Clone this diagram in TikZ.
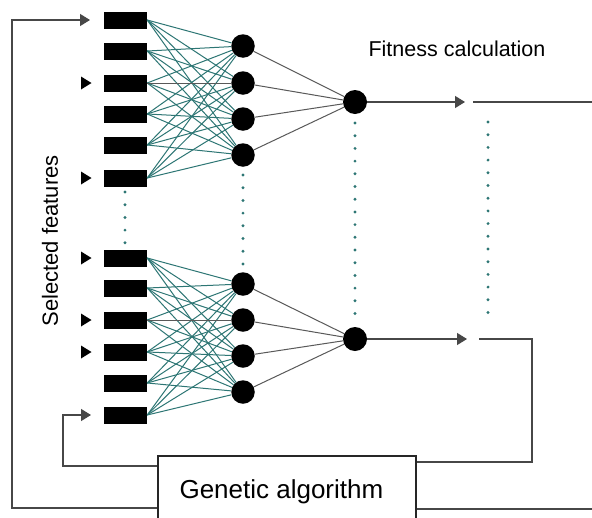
\documentclass[tikz,border=0pt]{standalone}
\usepackage{fontspec}
\setmainfont{Liberation Sans}
\usetikzlibrary{arrows.meta}
\definecolor{netteal}{RGB}{45,118,116}
\begin{document}
\begin{tikzpicture}[x=1pt,y=-1pt,
  inbox/.style={rectangle,fill=black,draw=none,minimum width=43pt,minimum height=17pt,inner sep=0pt},
  hid/.style={circle,fill=black,minimum size=23.5pt,inner sep=0pt},
  outn/.style={circle,fill=black,minimum size=24pt,inner sep=0pt},
  tealline/.style={draw=netteal,line width=1pt},
  darkline/.style={draw=black!65,line width=1pt},
  conn/.style={draw=black!72,line width=1.3pt},
  tip/.style={-{Triangle[length=10pt,width=12pt]}},
  dotcol/.style={draw=netteal,line width=3.2pt,line cap=round,dash pattern=on 0pt off 12.7pt},
  gabox/.style={draw=black!85,line width=2pt,fill=white,minimum width=258pt,minimum height=75pt,anchor=north west,inner sep=0pt}
]
\useasboundingbox (0,0) rectangle (592,517);
\fill[white] (0,0) rectangle (592,517);
\clip (0,0) rectangle (592,517);

% input boxes
\foreach \n/\y in {1/20,2/51,3/83,4/114,5/145,6/178}
  \node[inbox] (i\n) at (125.5,\y) {};
\foreach \n/\y in {1/258,2/288,3/320,4/352,5/383,6/415}
  \node[inbox] (j\n) at (125.5,\y) {};
% hidden neurons
\foreach \n/\y in {1/46,2/83,3/119,4/155}
  \node[hid] (h\n) at (243,\y) {};
\foreach \n/\y in {1/284,2/320,3/356,4/392}
  \node[hid] (g\n) at (243,\y) {};
% output neurons
\node[outn] (o1) at (355,102) {};
\node[outn] (o2) at (355,339) {};

% input-hidden connections
\foreach \a in {1,...,6}
  \foreach \b in {1,...,4} {
    \draw[tealline] (i\a.east) -- (h\b);
    \draw[tealline] (j\a.east) -- (g\b);
  }
\draw[darkline] (i3.east) -- (h2);
\draw[darkline] (j3.east) -- (g2);
% hidden-output connections
\foreach \b in {1,...,4} {
  \draw[darkline] (h\b) -- (o1);
  \draw[darkline] (g\b) -- (o2);
}

% dotted columns
\coordinate (d1a) at (125,192); \coordinate (d1b) at (125,244);
\coordinate (d2a) at (243,175); \coordinate (d2b) at (243,264);
\coordinate (d3a) at (355,123); \coordinate (d3b) at (355,314);
\coordinate (d4a) at (488,122); \coordinate (d4b) at (488,313);
\draw[dotcol] (d1a) -- (d1b);
\draw[dotcol] (d2a) -- (d2b);
\draw[dotcol] (d3a) -- (d3b);
\draw[dotcol] (d4a) -- (d4b);

% outputs to fitness
\coordinate (t1) at (465,102);
\coordinate (t2) at (467,339);
\draw[conn,tip] (o1) -- (t1);
\draw[conn,tip] (o2) -- (t2);
\coordinate (f1a) at (473,102); \coordinate (f1b) at (592,102);
\draw[conn] (f1a) -- (f1b);

% genetic algorithm box
\node[gabox] (ga) at (157,455) {};
\node[anchor=base west,font=\fontsize{26}{30}\selectfont] (gatext) at (176,498) {Genetic algorithm};

% fitness to GA
\coordinate (f2a) at (479,339);
\coordinate (f2b) at (532,339);
\coordinate (f2c) at (532,462);
\draw[conn] (f2a) -- (f2b) -- (f2c) -- (ga.east |- f2c);
\coordinate (r1) at (592,509);
\draw[conn] (ga.east |- r1) -- (r1);

% GA back to selected features
\coordinate (l1a) at (63,466);
\coordinate (l1b) at (63,415);
\coordinate (l1t) at (91,415);
\draw[conn,tip] (ga.west |- l1a) -- (l1a) -- (l1b) -- (l1t);
\coordinate (l2a) at (12,508);
\coordinate (l2b) at (12,20);
\coordinate (l2t) at (90,20);
\draw[conn,tip] (ga.west |- l2a) -- (l2a) -- (l2b) -- (l2t);

% selected-feature markers
\foreach \y in {83,178,258,320,352}
  \fill (81,\y-6.5) -- (91.5,\y) -- (81,\y+6.5) -- cycle;

% labels
\node[anchor=base,font=\fontsize{21.5}{26}\selectfont] (fit) at (457,56) {Fitness calculation};
\node[rotate=90,font=\fontsize{22}{26}\selectfont] (sel) at (50,241) {Selected features};
\end{tikzpicture}
\end{document}
